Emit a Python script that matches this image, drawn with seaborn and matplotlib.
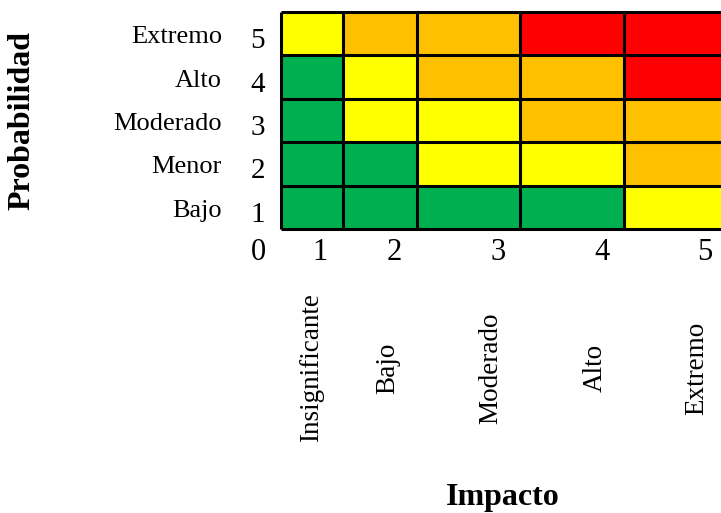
import numpy as np
import matplotlib
matplotlib.use("Agg")
import matplotlib.pyplot as plt
import matplotlib.transforms as mtransforms
from matplotlib.colors import ListedColormap
import seaborn as sns

# Risk matrix: rows = probability level 1..5, columns = impact level 1..5
# Risk level codes: 1 = low (green), 2 = medium (yellow), 3 = high (orange), 4 = extreme (red)
probability_levels = [1, 2, 3, 4, 5]
probability_names = ["Bajo", "Menor", "Moderado", "Alto", "Extremo"]
impact_levels = [1, 2, 3, 4, 5]
impact_names = ["Insignificante", "Bajo", "Moderado", "Alto", "Extremo"]
risk_prob1 = [1, 1, 1, 1, 2]
risk_prob2 = [1, 1, 2, 2, 3]
risk_prob3 = [1, 2, 2, 3, 3]
risk_prob4 = [1, 2, 3, 3, 4]
risk_prob5 = [2, 3, 3, 4, 4]
risk_colors = ["#00B050", "#FFFF00", "#FFC000", "#FF0000"]

# Layout: relative widths of the impact columns (table-like, unequal)
col_widths = [62, 74, 103, 104, 100]

sns.set_style("white")
plt.rcParams["font.family"] = ["Liberation Serif", "DejaVu Serif"]
plt.rcParams["text.color"] = "black"

W, H = 721, 513
fig = plt.figure(figsize=(W / 100, H / 100), dpi=100)
left, top, bottom = 281, 12, 229
total_w = sum(col_widths)
ax = fig.add_axes([left / W, 1 - bottom / H, total_w / W, (bottom - top) / H])

grid = np.array([risk_prob5, risk_prob4, risk_prob3, risk_prob2, risk_prob1])
expanded = np.repeat(grid, col_widths, axis=1)

sns.heatmap(expanded, ax=ax, cmap=ListedColormap(risk_colors), vmin=0.5, vmax=4.5,
            cbar=False, xticklabels=False, yticklabels=False)
ax.set_xticks([])
ax.set_yticks([])
for s in ax.spines.values():
    s.set_visible(False)

# Cell borders
edges = np.concatenate([[0], np.cumsum(col_widths)])
ax.vlines(edges, 0, grid.shape[0], colors="black", lw=2.2, clip_on=False)
ax.hlines(np.arange(grid.shape[0] + 1), 0, total_w, colors="black", lw=2.2, clip_on=False)


def px_shift(dx, dy):
    """Offset in pixels (y downward) applied after the data/axes transform."""
    return mtransforms.ScaledTranslation(dx / 100, -dy / 100, fig.dpi_scale_trans)


# Probability axis: numbers and names, placed by row (data y = row centre)
ytrans = ax.get_yaxis_transform()
row_centers = np.arange(grid.shape[0]) + 0.5
for yc, lvl, name in zip(row_centers, probability_levels[::-1], probability_names[::-1]):
    ax.text(0, yc, str(lvl), transform=ytrans + px_shift(258 - left, 14.5),
            ha="center", va="baseline", fontsize=21)
    ax.text(0, yc, name, transform=ytrans + px_shift(222 - left, 9.5),
            ha="right", va="baseline", fontsize=19)

# Impact axis: numbers and rotated names
num_x = [320, 394, 498, 602, 705]
name_x = [312, 388, 491, 595, 697]
base = ax.transAxes
ax.text(0, 0, "0", transform=base + px_shift(258 - left, 253 - bottom),
        ha="center", va="center", fontsize=22)
for lvl, nx, lx, name in zip(impact_levels, num_x, name_x, impact_names):
    ax.text(0, 0, str(lvl), transform=base + px_shift(nx - left, 253 - bottom),
            ha="center", va="center", fontsize=22)
    ax.text(0, 0, name, transform=base + px_shift(lx - left, 368 - bottom),
            ha="center", va="center", rotation=90, fontsize=19.5)

fig.text(22 / W, 1 - 121 / H, "Probabilidad", rotation=90, ha="center", va="center",
         fontsize=23, fontweight="bold")
fig.text(503 / W, 1 - 497 / H, "Impacto", ha="center", va="center",
         fontsize=23, fontweight="bold")

fig.savefig("out.png", dpi=100, facecolor="white")
